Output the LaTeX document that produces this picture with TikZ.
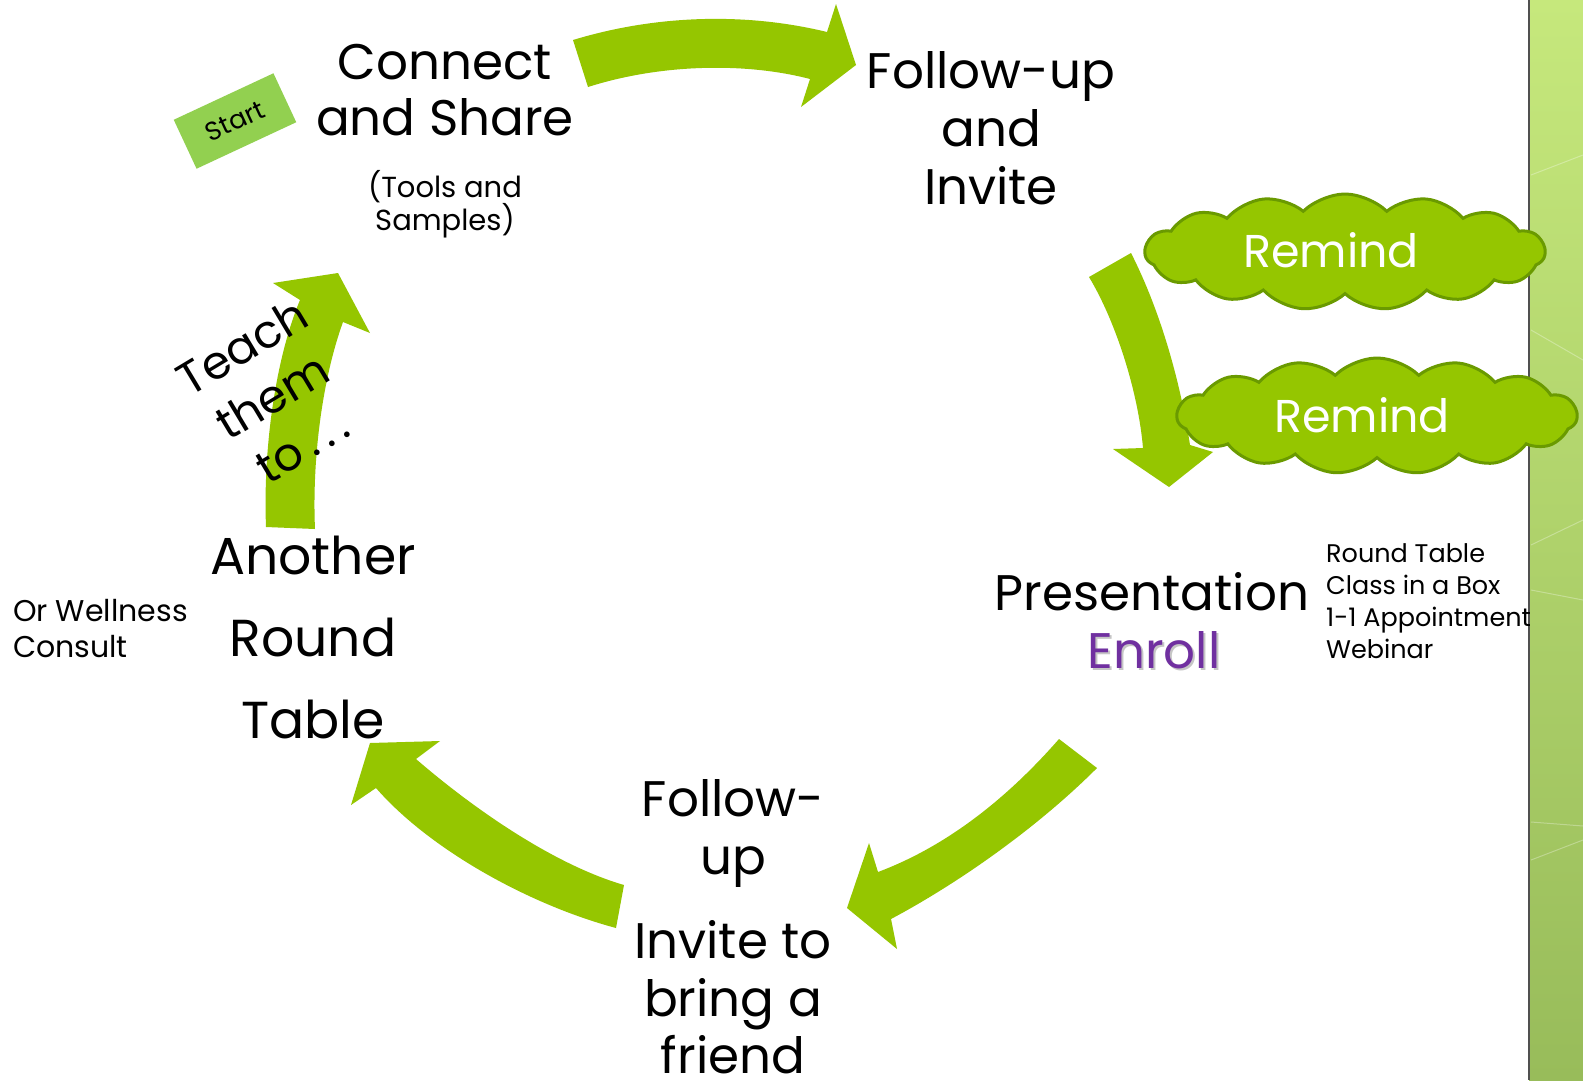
\documentclass[tikz,border=0pt]{standalone}
\usepackage{fontspec}
\setmainfont{Poppins}
\usetikzlibrary{shapes.symbols}
\definecolor{arrowgreen}{HTML}{95C600}
\definecolor{cloudedge}{HTML}{6A9A00}
\definecolor{startgreen}{HTML}{92D050}
\definecolor{enrollpurple}{HTML}{7030A0}
\definecolor{stripTop}{HTML}{C6E87C}
\definecolor{stripBottom}{HTML}{98BC5A}
\definecolor{stripEdge}{HTML}{505050}
\begin{document}
\begin{tikzpicture}[x=1pt,y=-1pt,
  arrowshape/.style={fill=arrowgreen, draw=none},
  bigtext/.style={font=\fontsize{50}{58}\selectfont, anchor=base, inner sep=0pt, text=black},
  smalltext/.style={font=\fontsize{25.5}{30}\selectfont, anchor=base west, inner sep=0pt},
  remindcloud/.style={cloud, cloud puffs=15, cloud puff arc=90, aspect=3.4, fill=arrowgreen, draw=cloudedge, line width=3pt, minimum width=400pt, minimum height=116pt, inner sep=0pt},
  remindtext/.style={font=\fontsize{46}{50}\selectfont, text=white, anchor=base, inner sep=0pt}]
\useasboundingbox (0,0) rectangle (1583,1080);
\fill[white] (0,0) rectangle (1583,1080);
% right decorative strip
\shade[top color=stripTop, bottom color=stripBottom] (1529,0) rectangle (1583,1080);
\draw[white, opacity=0.3, line width=1pt] (1531,175) -- (1583,155);
\draw[white, opacity=0.3, line width=1pt] (1531,330) -- (1583,360);
\draw[white, opacity=0.3, line width=1pt] (1531,545) -- (1583,520);
\draw[white, opacity=0.3, line width=1pt] (1531,590) -- (1583,600);
\draw[white, opacity=0.3, line width=1pt] (1531,822) -- (1583,826);
\draw[white, opacity=0.3, line width=1pt] (1531,860) -- (1583,840);
\draw[stripEdge, line width=2.5pt] (1529,0) -- (1529,1080);
% arrows
\path[arrowshape] (573,40) .. controls (655,15) and (745,12) .. (827,32) -- (836,4) -- (856,65) -- (801,107) -- (810,79) .. controls (745,62) and (660,64) .. (588,87) -- cycle;
\path[arrowshape] (1131,253) .. controls (1160,310) and (1180,380) .. (1190,445) -- (1213,452) -- (1169,487) -- (1113,449) -- (1143,448) .. controls (1138,390) and (1115,320) .. (1089,277) -- cycle;
\path[arrowshape] (1097,768) .. controls (1035,830) and (955,885) .. (891,919) -- (897,949) -- (847,908) -- (869,843) -- (878,872) .. controls (950,845) and (1010,795) .. (1059,739) -- cycle;
\path[arrowshape] (624,885) .. controls (555,865) and (475,810) .. (416,759) -- (440,741) -- (370,743) -- (351,805) -- (376,788) .. controls (430,850) and (530,905) .. (616,928) -- cycle;
\path[arrowshape] (315,529) .. controls (312,460) and (322,380) .. (343,322) -- (370,333) -- (338,273) -- (273,283) -- (300,300) .. controls (275,360) and (263,450) .. (266,527) -- cycle;
% clouds
\node[remindcloud] (cloud1) at (1345,252) {};
\node[remindcloud] (cloud2) at (1377,416) {};
\node[remindtext] (remind1) at (1331,267) {Remind};
\node[remindtext] (remind2) at (1362,432) {Remind};
% start
\node[fill=startgreen, rotate=25, minimum width=110pt, minimum height=54pt, font=\fontsize{26}{30}\selectfont, inner sep=0pt] (start) at (235,121) {Start};
% connect and share
\node[bigtext] (connect1) at (445,79) {Connect};
\node[bigtext] (connect2) at (445,135) {and Share};
\node[font=\fontsize{29}{30}\selectfont, anchor=base, inner sep=0pt] (tools1) at (445,197) {(Tools and};
\node[font=\fontsize{29}{30}\selectfont, anchor=base, inner sep=0pt] (tools2) at (445,230) {Samples)};
% follow-up and invite
\node[bigtext] (follow1) at (991,88) {Follow-up};
\node[bigtext] (follow2) at (991,146) {and};
\node[bigtext] (follow3) at (991,204) {Invite};
% presentation
\node[bigtext, text=black!45, opacity=0.5] (enrollshadow) at (1156,670) {Enroll};
\node[bigtext] (pres) at (1152,610) {Presentation};
\node[bigtext, text=enrollpurple] (enroll) at (1154,668) {Enroll};
\node[smalltext] (opt1) at (1326,562) {Round Table};
\node[smalltext] (opt2) at (1326,594) {Class in a Box};
\node[smalltext] (opt3) at (1326,626) {1-1 Appointment};
\node[smalltext] (opt4) at (1326,658) {Webinar};
% bottom follow-up
\node[bigtext] (fup1) at (733,816) {Follow-};
\node[bigtext] (fup2) at (733,874) {up};
\node[bigtext] (inv1) at (733,958) {Invite to};
\node[bigtext] (inv2) at (733,1016) {bring a};
\node[bigtext] (inv3) at (733,1073) {friend};
% another round table
\node[bigtext, font=\fontsize{52}{58}\selectfont] (another1) at (313,574) {Another};
\node[bigtext, font=\fontsize{52}{58}\selectfont] (another2) at (313,656) {Round};
\node[bigtext, font=\fontsize{52}{58}\selectfont] (another3) at (313,738) {Table};
\node[smalltext, font=\fontsize{30}{36}\selectfont] (well1) at (13,621) {Or Wellness};
\node[smalltext, font=\fontsize{30}{36}\selectfont] (well2) at (13,657) {Consult};
% teach them to
\node[font=\fontsize{46}{58}\selectfont, align=center, rotate=31, inner sep=0pt] (teach) at (272,396) {Teach\\them\\to\,.\,.\,.};
\end{tikzpicture}
\end{document}
